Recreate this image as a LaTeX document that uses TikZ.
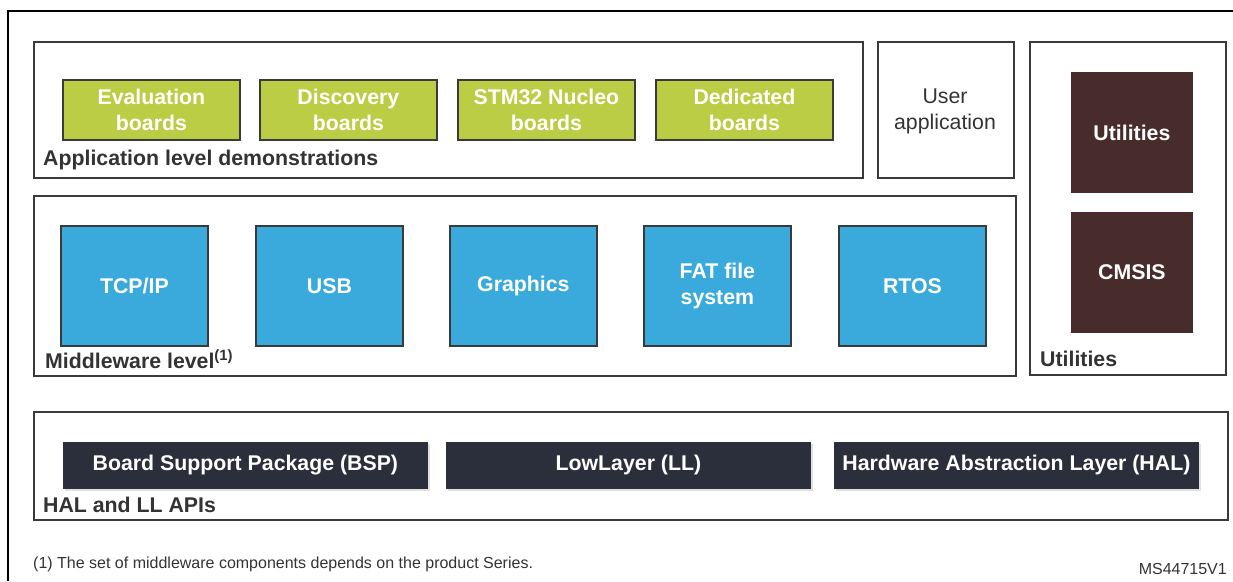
\documentclass[tikz,border=0pt]{standalone}
\usepackage{fontspec}
\setmainfont{Liberation Sans}
\usetikzlibrary{shadows}
\definecolor{cgreen}{HTML}{BBCD45}
\definecolor{cblue}{HTML}{3AAADC}
\definecolor{cbrown}{HTML}{482C2C}
\definecolor{cdark}{HTML}{2B2F3C}
\definecolor{cline}{HTML}{3A3A3A}
\definecolor{ctext}{HTML}{333333}
\begin{document}
\begin{tikzpicture}[x=1pt,y=-1pt,
  lvl/.style={draw=cline, line width=1.8pt, fill=white, anchor=north west, inner sep=0pt},
  comp/.style={draw=cline, line width=1.8pt, anchor=north west, inner sep=0pt, text=white,
    font=\fontsize{21.3}{26}\selectfont\bfseries, align=center},
  gbox/.style={comp, fill=cgreen, minimum width=177pt, minimum height=60pt},
  bbox/.style={comp, fill=cblue, minimum width=147pt, minimum height=120pt},
  rbox/.style={comp, draw=none, fill=cbrown, minimum width=122pt, minimum height=121pt},
  dbox/.style={comp, draw=none, fill=cdark, minimum width=365pt, minimum height=47pt,
    drop shadow={shadow xshift=2pt, shadow yshift=-2pt, fill=black!12, opacity=1}},
  lbl/.style={anchor=base west, inner sep=0pt, text=ctext, font=\fontsize{21.3}{25}\selectfont\bfseries},
  note/.style={anchor=base west, inner sep=0pt, text=ctext, font=\fontsize{16}{19}\selectfont}
]
\useasboundingbox (0,0) rectangle (1233,581);
% outer frame (cut by the page)
\coordinate (ftr) at (1233,11);
\coordinate (ftl) at (8,11);
\coordinate (fbl) at (8,581);
\draw[black, line width=2.4pt] (ftr) -- (ftl) -- (fbl);

% Application level
\node[lvl, minimum width=829pt, minimum height=136pt] (app) at (33,41) {};
\node[gbox] (eval) at (62,79) {Evaluation\\boards};
\node[gbox] (disc) at (259,79) {Discovery\\boards};
\node[gbox] (nucl) at (457,79) {STM32 Nucleo\\boards};
\node[gbox] (dedi) at (655,79) {Dedicated\\boards};
\node[lbl] (applbl) at (43,165) {Application level demonstrations};

% User application
\node[lvl, minimum width=136pt, minimum height=136pt] (user) at (877,41) {};
\node[text=ctext, align=center, font=\fontsize{21.3}{26}\selectfont] (usertxt) at (945,111) {User\\application};

% Utilities column
\node[lvl, minimum width=196pt, minimum height=333pt] (utilcol) at (1029,41) {};
\node[rbox] (util) at (1070,71) {Utilities};
\node[rbox] (cmsis) at (1070,211) {CMSIS};
\node[lbl] (utillbl) at (1040,366) {Utilities};

% Middleware level
\node[lvl, minimum width=982pt, minimum height=180pt] (mw) at (33,195) {};
\node[bbox] (tcp) at (60,225) {TCP/IP};
\node[bbox] (usb) at (255,225) {USB};
\node[bbox] (gfx) at (449,225) {Graphics};
\node[bbox] (fat) at (643,225) {FAT file\\system};
\node[bbox] (rtos) at (838,225) {RTOS};
\node[lbl] (mwlbl) at (45,368) {Middleware level\textsuperscript{(1)}};

% HAL and LL APIs
\node[lvl, minimum width=1194pt, minimum height=108pt] (hal) at (33,411) {};
\node[dbox] (bsp) at (62,441) {Board Support Package (BSP)};
\node[dbox] (ll) at (445,441) {LowLayer (LL)};
\node[dbox] (hl) at (833,441) {Hardware Abstraction Layer (HAL)};
\node[lbl] (hallbl) at (43,512) {HAL and LL APIs};

% notes
\node[note] (fn) at (33,568) {(1) The set of middleware components depends on the product Series.};
\node[note, anchor=base east] (ref) at (1227,574) {MS44715V1};
\end{tikzpicture}
\end{document}
